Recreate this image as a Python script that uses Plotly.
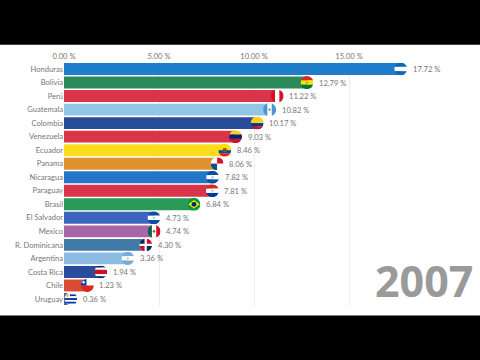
import base64
import plotly.graph_objects as go

countries = ["Honduras", "Bolivia", "Perú", "Guatemala", "Colombia", "Venezuela", "Ecuador", "Panama",
             "Nicaragua", "Paraguay", "Brasil", "El Salvador", "Mexico", "R. Dominicana", "Argentina",
             "Costa Rica", "Chile", "Uruguay"]
values = [17.72, 12.79, 11.22, 10.82, 10.17, 9.03, 8.46, 8.06, 7.82, 7.81, 6.84, 4.73, 4.74, 4.30, 3.36, 1.94, 1.23, 0.36]
year_label = "2007"
x_ticks = [0, 5, 10, 15]
x_tick_labels = ["0.00 %", "5.00 %", "10.00 %", "15.00 %"]

bar_colors = ["#1f7ecb", "#2a8a5a", "#d9344a", "#93c5e4", "#2a4d9b", "#d9344a", "#fbdc1c", "#e0922f", "#2277c9",
              "#d9344a", "#2b9a57", "#3b66bf", "#a865a8", "#3f7ba6", "#8dbde3", "#2a4d9b", "#dc4a34", "#3a64b5"]
TEXT = "#777777"


def h(*bands):
    n = sum(w for _, w in bands)
    y, out = 0, ""
    for c, w in bands:
        out += f'<rect x="0" y="{y}" width="14" height="{w * 14 / n + .1}" fill="{c}"/>'
        y += w * 14 / n
    return out


def v(*bands):
    n = sum(w for _, w in bands)
    x, out = 0, ""
    for c, w in bands:
        out += f'<rect x="{x}" y="0" width="{w * 14 / n + .1}" height="14" fill="{c}"/>'
        x += w * 14 / n
    return out


def dot(c, r=1.6, x=7, y=7):
    return f'<circle cx="{x}" cy="{y}" r="{r}" fill="{c}"/>'


def r(x, y, w, hh, c):
    return f'<rect x="{x}" y="{y}" width="{w}" height="{hh}" fill="{c}"/>'


NB = "#1167b8"
flags = {
    "Honduras": h((NB, 1), ("#fff", 1), (NB, 1)),
    "Bolivia": h(("#d52b1e", 1), ("#f9e300", 1), ("#007934", 1)) + dot("#c9b04a", 1.5),
    "Perú": v(("#d91023", 1), ("#fff", 1), ("#d91023", 1)),
    "Guatemala": v(("#4997d0", 1), ("#fff", 1), ("#4997d0", 1)) + dot("#7fb07f", 1.4),
    "Colombia": h(("#fcd116", 2), ("#003893", 1), ("#ce1126", 1)),
    "Venezuela": h(("#fcd116", 1), ("#00247d", 1), ("#cf142b", 1)),
    "Ecuador": h(("#ffdd00", 2), ("#034ea2", 1), ("#ed1c24", 1)) + dot("#6d5a3a", 2.4),
    "Panama": r(0, 0, 7, 7, "#fff") + r(7, 0, 7, 7, "#d21034") + r(0, 7, 7, 7, "#005293") + r(7, 7, 7, 7, "#fff"),
    "Nicaragua": h(("#0b4ea2", 1), ("#fff", 1), ("#0b4ea2", 1)) + dot("#8fb7d8", 1.2),
    "Paraguay": h(("#d52b1e", 1), ("#fff", 1), ("#0038a8", 1)) + dot("#9aa", 1),
    "Brasil": r(0, 0, 14, 14, "#009b3a") + '<polygon points="1,7 7,2.5 13,7 7,11.5" fill="#fedf00"/>' + dot("#002776", 2.6),
    "El Salvador": h(("#0b4ea2", 1), ("#fff", 1), ("#0b4ea2", 1)) + dot("#a9c6a0", 1.2),
    "Mexico": v(("#006847", 1), ("#fff", 1), ("#ce1126", 1)) + dot("#8a6d3b", 1.4),
    "R. Dominicana": r(0, 0, 14, 14, "#fff") + r(0, 0, 5.8, 5.8, "#002d62") + r(8.2, 0, 5.8, 5.8, "#ce1126")
                     + r(0, 8.2, 5.8, 5.8, "#ce1126") + r(8.2, 8.2, 5.8, 5.8, "#002d62"),
    "Argentina": h(("#74acdf", 1), ("#fff", 1), ("#74acdf", 1)) + dot("#f6b40e", 1),
    "Costa Rica": h(("#002b7f", 1), ("#fff", 1), ("#ce1126", 2), ("#fff", 1), ("#002b7f", 1)),
    "Chile": h(("#fff", 1), ("#d52b1e", 1)) + r(0, 0, 6, 7, "#0039a6") + dot("#fff", 1.3, 3, 3.5),
    "Uruguay": h(("#fff", 1), ("#0038a8", 1), ("#fff", 1), ("#0038a8", 1), ("#fff", 1), ("#0038a8", 1), ("#fff", 1)) + r(0, 0, 6, 6, "#fff") + dot("#f5c518", 1.8, 3, 3),
}


def flag_uri(body):
    svg = ('<svg xmlns="http://www.w3.org/2000/svg" viewBox="0 0 14 14" width="56" height="56">'
           '<defs><clipPath id="c"><circle cx="7" cy="7" r="7"/></clipPath></defs>'
           f'<g clip-path="url(#c)">{body}</g></svg>')
    return "data:image/svg+xml;base64," + base64.b64encode(svg.encode()).decode()


PX_PER_X = 19.0
ROW = 13.53
FONT = "Lato"
FS = 7.6

fig = go.Figure(go.Bar(x=values, y=countries, orientation="h", marker=dict(color=bar_colors, line_width=0),
                       hoverinfo="skip"))

images = [dict(source=flag_uri(flags[c]), xref="x", yref="y", x=val, y=i, sizex=13 / PX_PER_X, sizey=13 / ROW,
               xanchor="center", yanchor="middle", sizing="stretch", layer="above")
          for i, (c, val) in enumerate(zip(countries, values))]

annotations = [dict(x=val, y=c, text=f"{val:.2f} %", xref="x", yref="y", xanchor="left", yanchor="middle", xshift=10,
                    showarrow=False, font=dict(family=FONT, size=FS, color=TEXT))
               for c, val in zip(countries, values)]
annotations.append(dict(x=1, y=0, xref="paper", yref="paper", xanchor="right", yanchor="bottom", text=f"<b>{year_label}</b>",
                        showarrow=False, xshift=-5, yshift=-6, font=dict(family="Noto Sans", size=43, color="#9a9a9a")))

shapes = [
    dict(type="rect", xref="paper", yref="paper", x0=-0.2, x1=1.01, y0=1.0702, y1=1.3, fillcolor="#000", line_width=0),
    dict(type="rect", xref="paper", yref="paper", x0=-0.2, x1=1.01, y0=-0.3, y1=-0.0385, fillcolor="#000", line_width=0),
]

fig.update_layout(
    width=480, height=360, margin=dict(l=64, r=0, t=62, b=54), paper_bgcolor="#fff", plot_bgcolor="#fff",
    showlegend=False, bargap=0.12, images=images, annotations=annotations, shapes=shapes,
    xaxis=dict(side="top", range=[0, 416 / PX_PER_X], tickmode="array", tickvals=x_ticks, ticktext=x_tick_labels,
               showgrid=True, gridcolor="#eeeeee", gridwidth=1, zeroline=False, showline=False, ticks="",
               tickfont=dict(family=FONT, size=FS, color=TEXT)),
    yaxis=dict(type="category", categoryorder="array", categoryarray=countries, autorange="reversed", showgrid=False,
               showline=False, zeroline=False, ticks="", tickfont=dict(family=FONT, size=FS, color=TEXT)),
)
fig.write_html("out.html", config={"displayModeBar": False},
               post_script="document.body.style.margin='0';document.documentElement.style.overflow='hidden';")
